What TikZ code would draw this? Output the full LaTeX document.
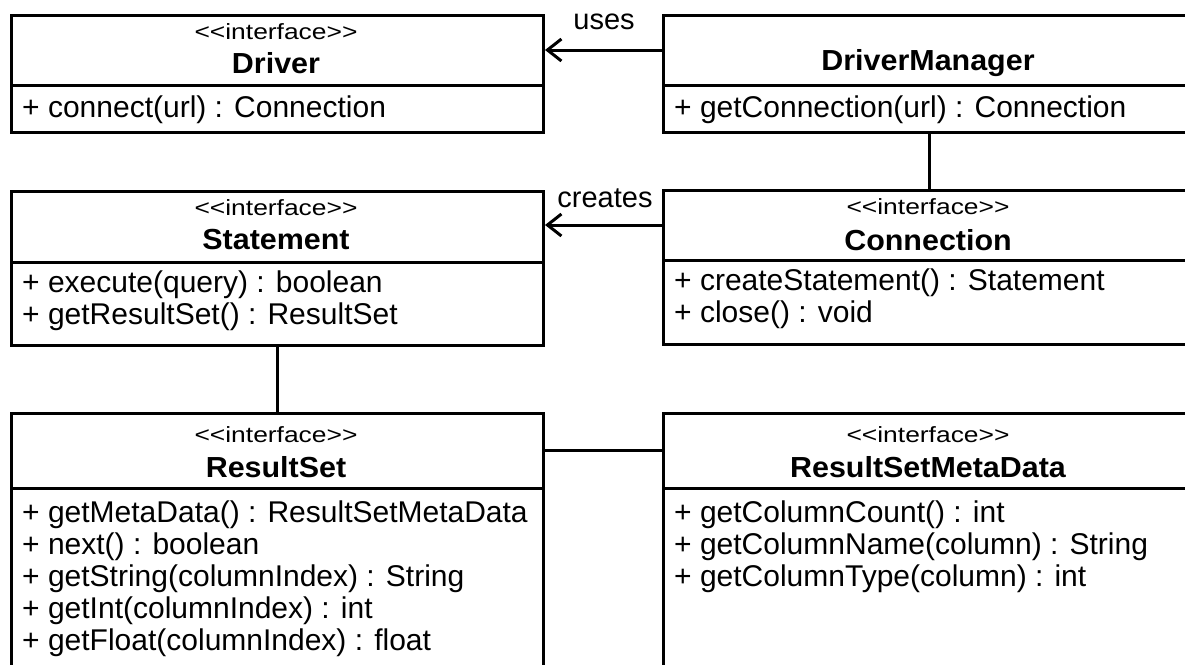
\documentclass[tikz,border=0pt]{standalone}
\usepackage{fontspec}
\setmainfont{Liberation Sans}
\newfontfamily\stereofont{Liberation Sans}[FakeStretch=1.2]
\newfontfamily\namefont{Liberation Sans}[FakeStretch=1.05]
\usetikzlibrary{arrows.meta}

\tikzset{
  classbox/.style={draw, line width=3pt, minimum width=532pt, inner sep=0pt, anchor=north west},
  stereo/.style={font=\stereofont\fontsize{22}{26}\selectfont, inner sep=0pt},
  cname/.style={font=\namefont\bfseries\fontsize{29}{30}\selectfont, inner sep=0pt},
  member/.style={font=\fontsize{30}{32}\selectfont, inner sep=0pt, anchor=west,
                 text height=22pt, text depth=6pt},
  tag/.style={font=\fontsize{29}{32}\selectfont, inner sep=0pt},
  assoc/.style={line width=3pt},
  navi/.style={line width=3pt, -{Straight Barb[length=14pt, width=22pt, line width=3pt]}},
}

\begin{document}
\begin{tikzpicture}[x=1pt, y=-1pt]
\useasboundingbox (0,0) rectangle (1185,664);
\clip (0,0) rectangle (1185,664);

% Driver
\node[classbox, minimum height=117pt] (driver) at (10,14) {};
\draw[assoc] ([yshift=-71pt]driver.north west) -- ([yshift=-71pt]driver.north east);
\node[stereo] (driverst) at (276,32) {<<interface>>};
\node[cname] (drivername) at (276,63) {Driver};
\node[member] (driverm1) at (22,109) {+ connect(url) : Connection};

% DriverManager
\node[classbox, minimum height=117pt] (dm) at (662,14) {};
\draw[assoc] ([yshift=-71pt]dm.north west) -- ([yshift=-71pt]dm.north east);
\node[cname] (dmname) at (928,63) {DriverManager};
\node[member] (dmm1) at (674,109) {+ getConnection(url) : Connection};

% Statement
\node[classbox, minimum height=154pt] (stmt) at (10,190) {};
\draw[assoc] ([yshift=-72pt]stmt.north west) -- ([yshift=-72pt]stmt.north east);
\node[stereo] (stmtst) at (276,208) {<<interface>>};
\node[cname] (stmtname) at (276,240) {Statement};
\node[member] (stmtm1) at (22,284) {+ execute(query) : boolean};
\node[member] (stmtm2) at (22,316) {+ getResultSet() : ResultSet};

% Connection
\node[classbox, minimum height=154pt] (conn) at (662,189) {};
\draw[assoc] ([yshift=-71pt]conn.north west) -- ([yshift=-71pt]conn.north east);
\node[stereo] (connst) at (928,207) {<<interface>>};
\node[cname] (connname) at (928,240) {Connection};
\node[member] (connm1) at (674,282) {+ createStatement() : Statement};
\node[member] (connm2) at (674,314) {+ close() : void};

% ResultSet
\node[classbox, minimum height=290pt] (rs) at (10,412) {};
\draw[assoc] ([yshift=-76pt]rs.north west) -- ([yshift=-76pt]rs.north east);
\node[stereo] (rsst) at (276,435) {<<interface>>};
\node[cname] (rsname) at (276,467) {ResultSet};
\node[member] (rsm1) at (22,514) {+ getMetaData() : ResultSetMetaData};
\node[member] (rsm2) at (22,546) {+ next() : boolean};
\node[member] (rsm3) at (22,578) {+ getString(columnIndex) : String};
\node[member] (rsm4) at (22,610) {+ getInt(columnIndex) : int};
\node[member] (rsm5) at (22,642) {+ getFloat(columnIndex) : float};

% ResultSetMetaData
\node[classbox, minimum height=290pt] (rsmd) at (662,412) {};
\draw[assoc] ([yshift=-76pt]rsmd.north west) -- ([yshift=-76pt]rsmd.north east);
\node[stereo] (rsmdst) at (928,435) {<<interface>>};
\node[cname] (rsmdname) at (928,467) {ResultSetMetaData};
\node[member] (rsmdm1) at (674,514) {+ getColumnCount() : int};
\node[member] (rsmdm2) at (674,546) {+ getColumnName(column) : String};
\node[member] (rsmdm3) at (674,578) {+ getColumnType(column) : int};

% Relations
\draw[navi] ([yshift=-36pt]dm.north west) -- ([yshift=-36pt]driver.north east);
\node[tag] (useslabel) at (604,22) {uses};
\draw[navi] ([yshift=-36pt]conn.north west) -- ([yshift=-35pt]stmt.north east);
\node[tag] (createslabel) at (605,198) {creates};
\draw[assoc] (dm.south) -- (conn.north);
\draw[assoc] (stmt.south) -- (rs.north);
\draw[assoc] ([yshift=-38pt]rs.north east) -- ([yshift=-38pt]rsmd.north west);
\end{tikzpicture}
\end{document}
